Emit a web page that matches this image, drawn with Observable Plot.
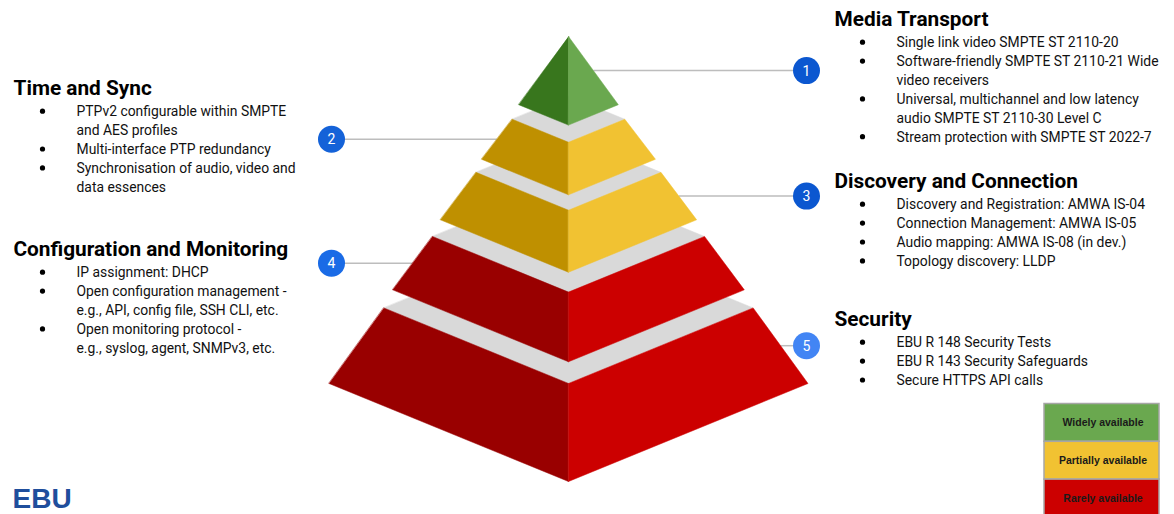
<!DOCTYPE html>
<html>
<head>
<meta charset="utf-8">
<script src="https://cdn.jsdelivr.net/npm/d3@7"></script>
<script src="https://cdn.jsdelivr.net/npm/@observablehq/plot@0.6"></script>
<style>
  html, body { margin: 0; padding: 0; background: #ffffff; }
  #chart svg { display: block; }
</style>
</head>
<body>
<div id="chart"></div>
<script>
// ---------------- data ----------------
const tierNames = ["Media Transport", "Time and Sync", "Discovery and Connection", "Configuration and Monitoring", "Security"];
const tierNumbers = ["1", "2", "3", "4", "5"];
const tierStatus = ["Widely available", "Partially available", "Partially available", "Rarely available", "Rarely available"];
// tier boundaries as fractions of pyramid height (apex = 0, base = 1)
const tierTop = [0, 0.235, 0.386, 0.568, 0.771];
const tierBottom = [0.208, 0.363, 0.535, 0.734, 1];
const tierSide = ["right", "left", "right", "left", "right"];
const tierBullets = [
  [["Single link video SMPTE ST 2110-20"],
   ["Software-friendly SMPTE ST 2110-21 Wide", "video receivers"],
   ["Universal, multichannel and low latency", "audio SMPTE ST 2110-30 Level C"],
   ["Stream protection with SMPTE ST 2022-7"]],
  [["PTPv2 configurable within SMPTE", "and AES profiles"],
   ["Multi-interface PTP redundancy"],
   ["Synchronisation of audio, video and", "data essences"]],
  [["Discovery and Registration: AMWA IS-04"],
   ["Connection Management: AMWA IS-05"],
   ["Audio mapping: AMWA IS-08 (in dev.)"],
   ["Topology discovery: LLDP"]],
  [["IP assignment: DHCP"],
   ["Open configuration management -", "e.g., API, config file, SSH CLI, etc."],
   ["Open monitoring protocol -", "e.g., syslog, agent, SNMPv3, etc."]],
  [["EBU R 148 Security Tests"],
   ["EBU R 143 Security Safeguards"],
   ["Secure HTTPS API calls"]]
];
const legendStatus = ["Widely available", "Partially available", "Rarely available"];
const logoText = "EBU";

// ---------------- styles / layout ----------------
const W = 1174, H = 514;
const statusColors = {
  "Widely available": {dark: "#38761d", light: "#6aa84f"},
  "Partially available": {dark: "#bf9000", light: "#f1c232"},
  "Rarely available": {dark: "#990000", light: "#cc0000"}
};
const topColor = "#d9d9d9";
const P = {cx: 568, halfBase: 239.5, yTop0: 36, yBot0: 31, ySlope: 352, depth: 98};
const circleX = {left: 331, right: 806};
const circleColors = ["#0b57d0", "#1462d8", "#0b57d0", "#1a6be6", "#4285f4"];
const textX = {left: {title: 13, bullet: 42, text: 76}, right: {title: 834, bullet: 862, text: 896}};
const groupBaseline = [25, 94, 187, 255, 325];
const firstItemOffset = 21.5, lineStep = 18.9;
const legend = {x0: 1044, x1: 1159, y0: 403.5, row: 37.8};

// ---------------- geometry ----------------
const cornerY = (t, top) => (top ? P.yTop0 : P.yBot0) + P.ySlope * t;
const hw = t => P.halfBase * t;
const poly = (pts, fill) => ({type: "Feature", properties: {fill},
  geometry: {type: "Polygon", coordinates: [[...pts, pts[0]]]}});

const shapes = [];
const leaders = [];
for (let i = tierNames.length - 1; i >= 0; --i) {
  const t0 = tierTop[i], t1 = tierBottom[i];
  const yc0 = cornerY(t0, true), yc1 = cornerY(t1, false);
  const yf0 = yc0 + P.depth * t0, yf1 = yc1 + P.depth * t1;
  const c = statusColors[tierStatus[i]];
  if (t0 > 0) {
    shapes.push(poly([[P.cx - hw(t0), yc0], [P.cx, yf0], [P.cx + hw(t0), yc0], [P.cx, yc0 - P.depth * t0]], topColor));
  }
  shapes.push(poly([[P.cx - hw(t0), yc0], [P.cx, yf0], [P.cx, yf1], [P.cx - hw(t1), yc1]], c.dark));
  shapes.push(poly([[P.cx, yf0], [P.cx + hw(t0), yc0], [P.cx + hw(t1), yc1], [P.cx, yf1]], c.light));
}
tierNames.forEach((name, i) => {
  const t0 = tierTop[i], t1 = tierBottom[i];
  const ym = (cornerY(t0, true) + cornerY(t1, false)) / 2;
  const s = tierSide[i] === "right" ? 1 : -1;
  leaders.push({i, y: ym, xEdge: P.cx + s * hw((t0 + t1) / 2), xCircle: circleX[tierSide[i]], num: tierNumbers[i], color: circleColors[i]});
});

// text lines
const titles = [], lines = [], bullets = [];
tierNames.forEach((name, i) => {
  const X = textX[tierSide[i]];
  titles.push({x: X.title, y: groupBaseline[i], text: name});
  let k = 0;
  tierBullets[i].forEach(item => {
    item.forEach((ln, j) => {
      const y = groupBaseline[i] + firstItemOffset + k * lineStep;
      if (j === 0) bullets.push({x: X.bullet, y: y - 4.8});
      lines.push({x: X.text, y, text: ln});
      k++;
    });
  });
});

const legendRows = legendStatus.map((s, i) => ({s, y1: legend.y0 + i * legend.row, y2: legend.y0 + (i + 1) * legend.row}));

// ---------------- plot ----------------
const chart = Plot.plot({
  width: W, height: H, margin: 0,
  x: {domain: [0, W], range: [0, W], axis: null},
  y: {domain: [0, H], range: [0, H], axis: null},
  color: {type: "identity"},
  style: {fontFamily: "Roboto, 'Noto Sans', sans-serif", background: "#ffffff", color: "#000"},
  marks: [
    // leader lines
    Plot.link(leaders, {x1: "xEdge", x2: "xCircle", y1: "y", y2: "y", stroke: "#bdbdbd", strokeWidth: 1.5}),
    // pyramid
    Plot.geo(shapes, {fill: d => d.properties.fill, stroke: d => d.properties.fill, strokeWidth: 0.5}),
    // number badges
    Plot.dot(leaders, {x: "xCircle", y: "y", r: 13.5, fill: "color", stroke: null}),
    Plot.text(leaders, {x: "xCircle", y: "y", text: "num", fill: "#ffffff", fontSize: 14, dy: 0.5}),
    // titles & bullets
    Plot.text(titles, {x: "x", y: "y", text: "text", textAnchor: "start", lineAnchor: "bottom", fontSize: 20.8, fontWeight: "bold", fill: "#000"}),
    Plot.dot(bullets, {x: "x", y: "y", r: 2.6, fill: "#000", stroke: null}),
    Plot.text(lines, {x: "x", y: "y", text: "text", textAnchor: "start", lineAnchor: "bottom", fontSize: 13.9, fill: "#111"}),
    // legend
    Plot.rect(legendRows, {x1: () => legend.x0, x2: () => legend.x1, y1: "y1", y2: "y2", fill: d => statusColors[d.s].light, stroke: "#a6a6a6", strokeWidth: 1.5}),
    Plot.text(legendRows, {x: () => (legend.x0 + legend.x1) / 2 + 1, y: d => (d.y1 + d.y2) / 2, text: "s", fontSize: 10.5, fontWeight: "bold", fontFamily: "'Liberation Sans', Arial, sans-serif", fill: "#1a1a1a"}),
    // logo
    Plot.text([logoText], {x: () => 12, y: () => 507, text: d => d, textAnchor: "start", lineAnchor: "bottom", fontSize: 28, fontWeight: "bold", fontFamily: "'Liberation Sans', Arial, sans-serif", fill: "#1f4e9c"})
  ]
});
document.getElementById("chart").append(chart);
</script>
</body>
</html>
